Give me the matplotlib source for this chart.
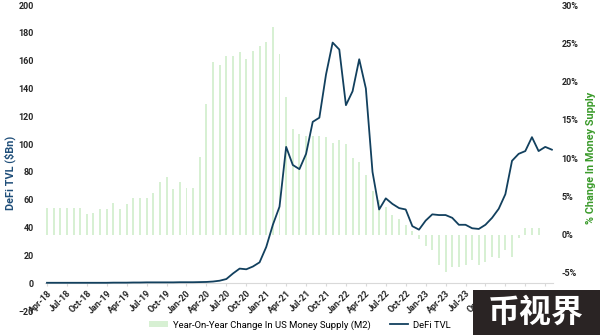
import numpy as np
import matplotlib
matplotlib.use("Agg")
import matplotlib.pyplot as plt
from matplotlib.patches import Rectangle, Patch
from matplotlib.lines import Line2D

plt.rcParams['font.family'] = ['Roboto', 'Noto Sans CJK SC', 'DejaVu Sans']

# monthly, Apr-18 .. Jun-24 (% year-on-year, M2)
m2_yoy = [3.5, 3.5, 3.5, 3.5, 3.5, 3.5, 2.7, 2.8, 3.3, 3.3, 4.1, 3.3,
          4.0, 4.8, 4.8, 4.8, 5.4, 6.8, 7.5, 6.0, 6.8, 6.1, 6.1, 10.1,
          17.1, 22.5, 22.2, 23.4, 23.3, 23.9, 22.9, 24.0, 24.6, 25.2, 27.1, 23.6,
          18.0, 13.8, 13.2, 12.9, 12.9, 12.9, 12.7, 12.0, 12.4, 11.8, 10.0, 9.5,
          7.8, 5.7, 4.5, 3.6, 2.6, 2.0, 1.2, 0.5, -0.6, -1.5, -2.0, -4.0,
          -4.9, -4.2, -4.2, -4.0, -3.3, -4.0, -3.6, -2.9, -3.1, -2.0, -2.9, -0.4,
          0.8, 0.8, 0.8]

# monthly, Apr-18 .. Aug-24 ($bn)
defi_tvl = [0.3, 0.3, 0.3, 0.3, 0.3, 0.3, 0.3, 0.3, 0.3, 0.3,
            0.4, 0.4, 0.4, 0.5, 0.5, 0.6, 0.6, 0.6, 0.6, 0.6,
            0.7, 0.7, 0.7, 0.8, 0.9, 1.2, 1.8, 3, 7, 10.5,
            10, 12, 15, 26, 42, 55, 98, 85, 82, 93,
            116, 119, 150, 173, 168, 128, 138, 161, 140, 80,
            53, 61, 57, 54, 53, 41, 38.5, 45, 49.5, 49,
            49, 47, 42, 42, 39.5, 39, 42, 47, 53.5, 64,
            88, 93, 95, 105, 95, 98, 96]

tick_labels = ['Apr-18', 'Jul-18', 'Oct-18', 'Jan-19', 'Apr-19', 'Jul-19',
               'Oct-19', 'Jan-20', 'Apr-20', 'Jul-20', 'Oct-20', 'Jan-21',
               'Apr-21', 'Jul-21', 'Oct-21', 'Jan-22', 'Apr-22', 'Jul-22',
               'Oct-22', 'Jan-23', 'Apr-23', 'Jul-23', 'Oct-23', 'Jan-24',
               'Apr-24', 'Jul-24']

bar_color = '#d7f0d3'
line_color = '#12405e'

fig = plt.figure(figsize=(6.0, 3.35), dpi=100)
ax = fig.add_axes([0.075, 0.0716, 0.847, 0.9134])
ax2 = ax.twinx()

x_bar = np.arange(len(m2_yoy))
x_line = np.arange(len(defi_tvl))

ax2.bar(x_bar, m2_yoy, width=0.3, color=bar_color, zorder=1)
ax.plot(x_line, defi_tvl, color=line_color, lw=1.3, zorder=3)

ax.set_zorder(ax2.get_zorder() + 1)
ax.patch.set_visible(False)

ax.set_xlim(-0.3, 76.2)
ax.set_ylim(-20, 200)
ax.set_yticks(np.arange(-20, 201, 20))
ax2.set_ylim(-10, 30)
# -10% sits under the watermark in the source, so it is left out
ax2.set_yticks(np.arange(-5, 31, 5))
ax2.set_yticklabels([f'{v}%' for v in range(-5, 31, 5)])

ax.set_xticks(np.arange(0, 3 * len(tick_labels), 3))
ax.set_xticklabels(tick_labels)

for a in (ax, ax2):
    for s in ('top', 'left', 'right', 'bottom'):
        a.spines[s].set_visible(False)
ax.spines['bottom'].set_visible(True)
ax.spines['bottom'].set_position(('data', 0))
ax.spines['bottom'].set_color('#d9d9d9')
ax.spines['bottom'].set_linewidth(0.8)

ax.tick_params(axis='x', length=2.5, color='#d9d9d9', labelsize=6.5, pad=1.5,
               labelrotation=45)
ax.tick_params(axis='y', length=0, labelsize=6.5, pad=8)
ax2.tick_params(axis='y', length=0, labelsize=6.5, pad=6)
for lab in ax.get_xticklabels():
    lab.set_ha('right')
    lab.set_rotation_mode('anchor')
for lab in ax.get_xticklabels() + ax.get_yticklabels() + ax2.get_yticklabels():
    lab.set_fontweight('bold')
    lab.set_color('#262626')

ax.set_ylabel(r'DeFi TVL (\$Bn)', color='#1f4e79', fontsize=7.8, fontweight='bold')
ax.yaxis.set_label_coords(-0.058, 0.45)
ax2.set_ylabel('% Change In Money Supply', color='#3a9a2a', fontsize=7.8,
               fontweight='bold')
ax2.yaxis.set_label_coords(1.065, 0.5)

handles = [Patch(facecolor=bar_color, edgecolor='none'),
           Line2D([], [], color=line_color, lw=1.3)]
labels = ['Year-On-Year Change In US Money Supply (M2)', 'DeFi TVL']
fig.legend(handles, labels, loc='center', bbox_to_anchor=(0.5, 0.03), ncol=2,
           frameon=False, fontsize=6.8, handlelength=2.0, handleheight=0.6,
           columnspacing=2.0, handletextpad=0.5)

# watermark box
fig.patches.append(Rectangle((473 / 600, 0), 127 / 600, 45 / 335,
                             transform=fig.transFigure, facecolor='#2a2424',
                             edgecolor='none', zorder=10))
fig.text(536 / 600, 22 / 335, '币视界', color='white', fontsize=23,
         fontweight='bold', ha='center', va='center', zorder=11,
         family=['Noto Sans CJK SC', 'DejaVu Sans'])

fig.savefig('out.png', dpi=100)
